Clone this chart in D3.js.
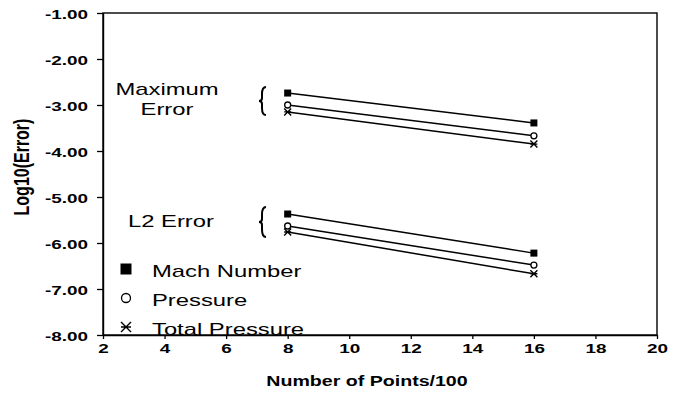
<html>
  <head>
    <script src="https://cdn.jsdelivr.net/npm/d3@7"></script>
    <style>
      body { margin: 0; background: white; }
      svg { display: block; }
    </style>
  </head>
  <body>
    <script>
      // Størrelser
      const w = 681;
      const h = 395;
      const pLeft = 103, pTop = 13, pRight = 657, pBottom = 335;
      const sx = 1.4; // vandret stræk af teksten (som i originalen)
      const font = "'Liberation Sans', Arial, sans-serif";

      // Data
      const xTicks = [2, 4, 6, 8, 10, 12, 14, 16, 18, 20];
      const yTicks = [-1, -2, -3, -4, -5, -6, -7, -8];
      const nPoints = [8, 16];
      const maxMach = [-2.74, -3.39];
      const maxPressure = [-3.00, -3.67];
      const maxTotal = [-3.15, -3.85];
      const l2Mach = [-5.37, -6.22];
      const l2Pressure = [-5.63, -6.48];
      const l2Total = [-5.76, -6.67];
      const legendNames = ["Mach Number", "Pressure", "Total Pressure"];
      const markerTypes = ["square", "circle", "star"];

      const series = [
        { vals: maxMach, m: "square" },
        { vals: maxPressure, m: "circle" },
        { vals: maxTotal, m: "star" },
        { vals: l2Mach, m: "square" },
        { vals: l2Pressure, m: "circle" },
        { vals: l2Total, m: "star" }
      ];

      // Skalaer
      const x = d3.scaleLinear().domain([2, 20]).range([pLeft, pRight]);
      const y = d3.scaleLinear().domain([-1, -8]).range([pTop, pBottom]);

      const svg = d3.select("body").append("svg")
        .attr("width", w)
        .attr("height", h);

      // tekst med vandret stræk
      function stext(px, py, str, size, weight, anchor) {
        svg.append("g")
          .attr("transform", "translate(" + px + "," + py + ") scale(" + sx + ",1)")
          .append("text")
          .attr("font-family", font)
          .attr("font-size", size)
          .attr("font-weight", weight)
          .attr("text-anchor", anchor)
          .attr("fill", "black")
          .text(str);
      }

      // Ramme
      svg.append("rect")
        .attr("x", pLeft).attr("y", pTop)
        .attr("width", pRight - pLeft).attr("height", pBottom - pTop)
        .attr("fill", "none").attr("stroke", "black").attr("stroke-width", 1.4);

      // Akser
      const yAxis = svg.append("g")
        .attr("transform", "translate(" + pLeft + ",0)")
        .call(d3.axisLeft(y).tickValues(yTicks).tickSize(6).tickSizeOuter(0)
          .tickFormat(d => d.toFixed(2)));
      yAxis.selectAll("text")
        .attr("x", null).attr("dy", null)
        .attr("transform", "translate(-15,5) scale(" + sx + ",1)")
        .attr("font-family", font).attr("font-size", 13.5).attr("font-weight", "bold")
        .attr("fill", "black");

      const xAxis = svg.append("g")
        .attr("transform", "translate(0," + pBottom + ")")
        .call(d3.axisBottom(x).tickValues(xTicks).tickSize(4).tickSizeOuter(0));
      xAxis.selectAll("text")
        .attr("y", null).attr("dy", null)
        .attr("transform", "translate(0,18) scale(" + sx + ",1)")
        .attr("font-family", font).attr("font-size", 13.5).attr("font-weight", "bold")
        .attr("fill", "black");
      svg.selectAll(".domain").attr("stroke-width", 1.4);
      svg.selectAll(".tick line").attr("stroke-width", 1.3);

      // Aksetitler
      stext(367, 386, "Number of Points/100", 14, "bold", "middle");
      svg.append("g")
        .attr("transform", "translate(29,167) rotate(-90) scale(1," + sx + ")")
        .append("text")
        .attr("font-family", font).attr("font-size", 16).attr("font-weight", "bold")
        .attr("text-anchor", "middle")
        .text("Log10(Error)");

      // Markører
      function marker(g, type, cx, cy, s) {
        if (type === "square") {
          g.append("rect").attr("x", cx - s / 2).attr("y", cy - s / 2)
            .attr("width", s).attr("height", s).attr("fill", "black");
        } else if (type === "circle") {
          g.append("circle").attr("cx", cx).attr("cy", cy).attr("r", s / 2 - 0.5)
            .attr("fill", "white").attr("stroke", "black").attr("stroke-width", 1.3);
        } else {
          const r = s / 2;
          g.append("path")
            .attr("d", "M" + (cx - r) + "," + (cy - r) + "L" + (cx + r) + "," + (cy + r) +
              "M" + (cx - r) + "," + (cy + r) + "L" + (cx + r) + "," + (cy - r) +
              "M" + (cx - r) + "," + cy + "L" + (cx + r) + "," + cy)
            .attr("stroke", "black").attr("stroke-width", 1.4).attr("fill", "none");
        }
      }

      // Linjer og punkter
      const line = d3.line().x(d => x(d[0])).y(d => y(d[1]));
      series.forEach(s => {
        const pts = nPoints.map((n, i) => [n, s.vals[i]]);
        svg.append("path").attr("d", line(pts))
          .attr("fill", "none").attr("stroke", "black").attr("stroke-width", 1.5);
        const g = svg.append("g");
        pts.forEach(p => marker(g, s.m, x(p[0]), y(p[1]), 7));
      });

      // Gruppe-etiketter
      stext(167, 95, "Maximum", 17, "normal", "middle");
      stext(167, 115, "Error", 17, "normal", "middle");
      stext(128, 227, "L2 Error", 17, "normal", "start");

      // Klammer
      function brace(cx, cy, hh) {
        const a = hh / 2;
        svg.append("path")
          .attr("d", "M" + (cx + 3) + "," + (cy - a) +
            "Q" + (cx - 1) + "," + (cy - a) + " " + (cx - 1) + "," + (cy - a / 2) +
            "L" + (cx - 1) + "," + (cy - 3) +
            "Q" + (cx - 1) + "," + cy + " " + (cx - 4) + "," + cy +
            "Q" + (cx - 1) + "," + cy + " " + (cx - 1) + "," + (cy + 3) +
            "L" + (cx - 1) + "," + (cy + a / 2) +
            "Q" + (cx - 1) + "," + (cy + a) + " " + (cx + 3) + "," + (cy + a))
          .attr("fill", "none").attr("stroke", "black").attr("stroke-width", 2);
      }
      brace(263, 101, 28);
      brace(263, 222, 30);

      // Forklaring
      legendNames.forEach((name, i) => {
        const ly = 269 + i * 29;
        const g = svg.append("g");
        marker(g, markerTypes[i], 126, ly, i === 0 ? 11 : 10);
        stext(152, ly + 8, name, 17, "normal", "start");
      });
    </script>
  </body>
</html>
